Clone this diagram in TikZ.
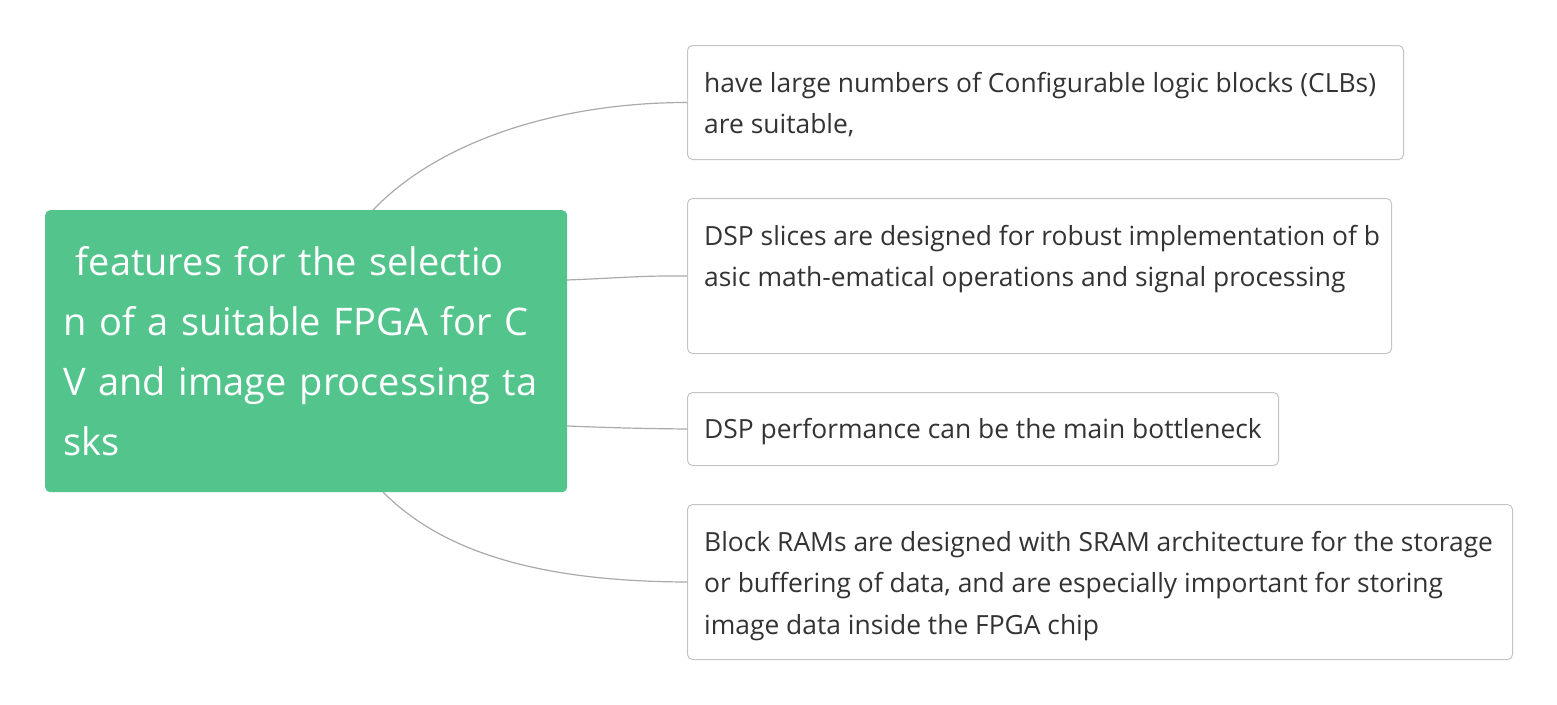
\documentclass[tikz,border=0pt]{standalone}
\usepackage{fontspec}
\setmainfont{Open Sans}
\definecolor{rootgreen}{HTML}{52C48C}
\definecolor{edgegray}{HTML}{AAAAAA}
\definecolor{boxgray}{HTML}{C4C4C4}
\definecolor{txtgray}{HTML}{333333}
\begin{document}
\begin{tikzpicture}[x=1pt,y=-1pt,
  rootbox/.style={anchor=north west,fill=rootgreen,rounded corners=5pt,text=white,
    align=left,inner xsep=18pt,inner ysep=0pt,font=\fontsize{38}{60}\selectfont,
    minimum width=522pt,minimum height=282pt,text width=486pt},
  leafbox/.style={anchor=north west,draw=boxgray,line width=1pt,rounded corners=5pt,inner sep=0pt},
  leaftext/.style={anchor=base west,inner sep=0pt,text=txtgray,align=left,
    font=\fontsize{26.4}{41.5}\selectfont},
  link/.style={draw=edgegray,line width=1.2pt}]
\useasboundingbox (0,0) rectangle (1557,704);
\node[rootbox] (root) at (45,210) {\mbox{\ features for the selectio}\\\mbox{n of a suitable FPGA for C}\\\mbox{V and image processing ta}\\\mbox{sks}};
\node[leafbox,minimum width=716pt,minimum height=114pt] (b1) at (687,45) {};
\node[leaftext] (t1) at (704,133.5) {have large numbers of Configurable logic blocks (CLBs)\\are suitable,};
\node[leafbox,minimum width=704pt,minimum height=155pt] (b2) at (687,198) {};
\node[leaftext] (t2) at (704,286.5) {DSP slices are designed for robust implementation of b\\asic math-ematical operations and signal processing};
\node[leafbox,minimum width=591pt,minimum height=73pt] (b3) at (687,392) {};
\node[leaftext] (t3) at (704,438) {DSP performance can be the main bottleneck};
\node[leafbox,minimum width=825pt,minimum height=155pt] (b4) at (687,504) {};
\node[leaftext] (t4) at (704,634) {Block RAMs are designed with SRAM architecture for the storage\\or buffering of data, and are especially important for storing\\image data inside the FPGA chip};
\coordinate (r1) at (373,210);
\coordinate (r2) at (567,280);
\coordinate (r3) at (567,426);
\coordinate (r4) at (383,492);
\path[link] (r1) .. controls (440,140) and (560,102.5) .. (b1.west);
\path[link] (r2) .. controls (620,278) and (640,275.5) .. (b2.west);
\path[link] (r3) .. controls (620,428) and (640,428.5) .. (b3.west);
\path[link] (r4) .. controls (450,560) and (560,581.5) .. (b4.west);
\end{tikzpicture}
\end{document}
